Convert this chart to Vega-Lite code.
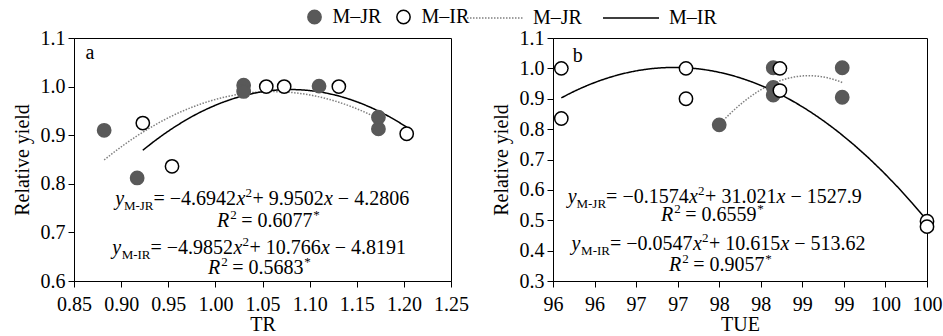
{
  "$schema": "https://vega.github.io/schema/vega-lite/v6.json",
  "padding": {"left": 11, "top": 7, "right": 0, "bottom": 2},
  "background": "white",
  "config": {
    "font": "Liberation Serif",
    "view": {"stroke": "black", "strokeWidth": 1},
    "axis": {
      "labelFont": "Liberation Serif", "labelFontSize": 20, "labelColor": "black",
      "titleFont": "Liberation Serif", "titleFontSize": 20, "titleFontWeight": "normal", "titleColor": "black",
      "domainColor": "black", "tickColor": "black", "tickSize": 6, "grid": false,
      "labelFlush": false, "labelOverlap": false
    },
    "axisX": {"labelPadding": 7, "titlePadding": 0},
    "axisY": {"labelPadding": 3, "titlePadding": 8},
    "legend": {"labelFont": "Liberation Serif", "labelFontSize": 20, "labelColor": "black", "padding": 0, "rowPadding": 0},
    "concat": {"spacing": 21},
    "text": {"font": "Liberation Serif", "fontSize": 20, "color": "black", "baseline": "alphabetic"}
  },
  "datasets": {
    "pa": [
      {"series": "M–JR", "xv": 0.882, "yv": 0.910},
      {"series": "M–JR", "xv": 0.917, "yv": 0.812},
      {"series": "M–JR", "xv": 1.030, "yv": 1.003},
      {"series": "M–JR", "xv": 1.030, "yv": 0.990},
      {"series": "M–JR", "xv": 1.110, "yv": 1.001},
      {"series": "M–JR", "xv": 1.173, "yv": 0.937},
      {"series": "M–JR", "xv": 1.173, "yv": 0.913},
      {"series": "M–IR", "xv": 0.923, "yv": 0.925},
      {"series": "M–IR", "xv": 0.954, "yv": 0.836},
      {"series": "M–IR", "xv": 1.054, "yv": 1.000},
      {"series": "M–IR", "xv": 1.073, "yv": 1.000},
      {"series": "M–IR", "xv": 1.131, "yv": 1.000},
      {"series": "M–IR", "xv": 1.203, "yv": 0.903}
    ],
    "pb": [
      {"series": "M–JR", "xv": 97.5, "yv": 0.814},
      {"series": "M–JR", "xv": 98.15, "yv": 1.002},
      {"series": "M–JR", "xv": 98.15, "yv": 0.937},
      {"series": "M–JR", "xv": 98.15, "yv": 0.912},
      {"series": "M–JR", "xv": 98.98, "yv": 1.002},
      {"series": "M–JR", "xv": 98.98, "yv": 0.905},
      {"series": "M–IR", "xv": 95.6, "yv": 1.0},
      {"series": "M–IR", "xv": 95.6, "yv": 0.835},
      {"series": "M–IR", "xv": 97.1, "yv": 1.0},
      {"series": "M–IR", "xv": 97.1, "yv": 0.90},
      {"series": "M–IR", "xv": 98.23, "yv": 1.0},
      {"series": "M–IR", "xv": 98.23, "yv": 0.927},
      {"series": "M–IR", "xv": 100, "yv": 0.497},
      {"series": "M–IR", "xv": 100, "yv": 0.479}
    ],
    "ea": [
      {"xv": 0.9344, "yv": 0.7564, "sub": "M-JR", "c1": "= −4.6942", "c2": "+ 9.9502", "c3": "− 4.2806"},
      {"xv": 0.9312, "yv": 0.6556, "sub": "M-IR", "c1": "= −4.9852", "c2": "+ 10.766", "c3": "− 4.8191"}
    ],
    "ra": [
      {"xv": 1.0147, "yv": 0.7111, "c1": "= 0.6077"},
      {"xv": 1.0051, "yv": 0.6144, "c1": "= 0.5683"}
    ],
    "la": [{"xv": 0.867, "yv": 1.0558, "lab": "a"}],
    "eb": [
      {"xv": 96.139, "yv": 0.5568, "sub": "M-JR", "c1": "= −0.1574", "c2": "+ 31.021", "c3": "− 1527.9"},
      {"xv": 96.186, "yv": 0.4021, "sub": "M-IR", "c1": "= −0.0547", "c2": "+ 10.615", "c3": "− 513.62"}
    ],
    "rb": [
      {"xv": 96.947, "yv": 0.4975, "c1": "= 0.6559"},
      {"xv": 97.042, "yv": 0.3329, "c1": "= 0.9057"}
    ],
    "lb": [{"xv": 95.798, "yv": 1.021, "lab": "b"}]
  },
  "hconcat": [
    {
      "width": 377, "height": 243,
      "encoding": {
        "x": {"field": "xv", "type": "quantitative", "scale": {"domain": [0.85, 1.25], "nice": false, "zero": false},
              "axis": {"title": "TR", "values": [0.85, 0.9, 0.95, 1.0, 1.05, 1.1, 1.15, 1.2, 1.25], "format": ".2f"}},
        "y": {"field": "yv", "type": "quantitative", "scale": {"domain": [0.6, 1.1], "nice": false, "zero": false},
              "axis": {"title": "Relative yield", "values": [0.6, 0.7, 0.8, 0.9, 1.0, 1.1], "format": ".1f"}}
      },
      "layer": [
        {
          "data": {"name": "pa"},
          "transform": [{"regression": "yv", "on": "xv", "groupby": ["series"], "method": "poly", "order": 2}],
          "mark": {"type": "line", "strokeWidth": 1.5},
          "encoding": {
            "color": {"field": "series", "type": "nominal", "scale": {"domain": ["M–JR", "M–IR"], "range": ["#808080", "black"]},
                      "legend": {"title": null, "orient": "none", "legendX": 410, "legendY": -31, "direction": "horizontal", "symbolType": "M-2.8,0H2.8", "symbolSize": 400, "symbolStrokeWidth": 1.5, "labelOffset": 27, "columnPadding": 18}},
            "strokeDash": {"field": "series", "type": "nominal", "scale": {"domain": ["M–JR", "M–IR"], "range": [[1.5, 1.5], [1, 0]]},
                      "legend": {"title": null, "orient": "none", "legendX": 410, "legendY": -31, "direction": "horizontal", "symbolType": "M-2.8,0H2.8", "symbolSize": 400, "symbolStrokeWidth": 1.5, "labelOffset": 27, "columnPadding": 18}}
          }
        },
        {
          "data": {"name": "pa"},
          "mark": {"type": "point", "shape": "circle", "filled": true, "size": 177, "strokeWidth": 1.5, "opacity": 1},
          "encoding": {
            "fill": {"field": "series", "type": "nominal", "sort": "descending", "scale": {"range": ["#595959", "white"]},
                     "legend": {"title": null, "orient": "none", "legendX": 230.5, "legendY": -31, "direction": "horizontal", "symbolType": "circle", "symbolSize": 177, "symbolStrokeWidth": 1.5, "labelOffset": 8, "columnPadding": 12}},
            "stroke": {"field": "series", "type": "nominal", "sort": "descending", "scale": {"range": ["#595959", "black"]},
                     "legend": {"title": null, "orient": "none", "legendX": 230.5, "legendY": -31, "direction": "horizontal", "symbolType": "circle", "symbolSize": 177, "symbolStrokeWidth": 1.5, "labelOffset": 8, "columnPadding": 12}}
          }
        },
        {"data": {"name": "la"}, "mark": {"type": "text", "align": "center"}, "encoding": {"text": {"field": "lab"}}},
        {"data": {"name": "ea"}, "mark": {"type": "text", "text": "y", "fontStyle": "italic", "align": "right", "dx": -29.5}, "encoding": {}},
        {"data": {"name": "ea"}, "mark": {"type": "text", "fontSize": 13, "align": "right", "dy": 5}, "encoding": {"text": {"field": "sub"}}},
        {"data": {"name": "ea"}, "mark": {"type": "text", "align": "left"}, "encoding": {"text": {"field": "c1"}}},
        {"data": {"name": "ea"}, "mark": {"type": "text", "text": "x", "fontStyle": "italic", "align": "left", "dx": 83}, "encoding": {}},
        {"data": {"name": "ea"}, "mark": {"type": "text", "text": "2", "fontSize": 13, "align": "left", "dx": 92, "dy": -8}, "encoding": {}},
        {"data": {"name": "ea"}, "mark": {"type": "text", "align": "left", "dx": 99}, "encoding": {"text": {"field": "c2"}}},
        {"data": {"name": "ea"}, "mark": {"type": "text", "text": "x", "fontStyle": "italic", "align": "left", "dx": 170.4}, "encoding": {}},
        {"data": {"name": "ea"}, "mark": {"type": "text", "align": "left", "dx": 184.3}, "encoding": {"text": {"field": "c3"}}},
        {"data": {"name": "ra"}, "mark": {"type": "text", "text": "R", "fontStyle": "italic", "align": "right"}, "encoding": {}},
        {"data": {"name": "ra"}, "mark": {"type": "text", "text": "2", "fontSize": 13, "align": "left", "dx": 1, "dy": -8}, "encoding": {}},
        {"data": {"name": "ra"}, "mark": {"type": "text", "align": "left", "dx": 12}, "encoding": {"text": {"field": "c1"}}},
        {"data": {"name": "ra"}, "mark": {"type": "text", "text": "*", "fontSize": 13, "align": "left", "dx": 84, "dy": -8}, "encoding": {}}
      ]
    },
    {
      "width": 374, "height": 243,
      "encoding": {
        "x": {"field": "xv", "type": "quantitative", "scale": {"domain": [95.5, 100], "nice": false, "zero": false},
              "axis": {"title": "TUE", "values": [95.5, 96, 96.5, 97, 97.5, 98, 98.5, 99, 99.5, 100], "format": ".0f"}},
        "y": {"field": "yv", "type": "quantitative", "scale": {"domain": [0.3, 1.1], "nice": false, "zero": false},
              "axis": {"title": "Relative yield", "values": [0.3, 0.4, 0.5, 0.6, 0.7, 0.8, 0.9, 1.0, 1.1], "format": ".1f"}}
      },
      "layer": [
        {
          "data": {"name": "pb"},
          "transform": [{"regression": "yv", "on": "xv", "groupby": ["series"], "method": "poly", "order": 2}],
          "mark": {"type": "line", "strokeWidth": 1.5},
          "encoding": {
            "color": {"field": "series", "type": "nominal", "scale": {"domain": ["M–JR", "M–IR"], "range": ["#808080", "black"]},
                      "legend": {"title": null, "orient": "none", "legendX": 410, "legendY": -31, "direction": "horizontal", "symbolType": "M-2.8,0H2.8", "symbolSize": 400, "symbolStrokeWidth": 1.5, "labelOffset": 27, "columnPadding": 18}},
            "strokeDash": {"field": "series", "type": "nominal", "scale": {"domain": ["M–JR", "M–IR"], "range": [[1.5, 1.5], [1, 0]]},
                      "legend": {"title": null, "orient": "none", "legendX": 410, "legendY": -31, "direction": "horizontal", "symbolType": "M-2.8,0H2.8", "symbolSize": 400, "symbolStrokeWidth": 1.5, "labelOffset": 27, "columnPadding": 18}}
          }
        },
        {
          "data": {"name": "pb"},
          "mark": {"type": "point", "shape": "circle", "filled": true, "size": 177, "strokeWidth": 1.5, "opacity": 1},
          "encoding": {
            "fill": {"field": "series", "type": "nominal", "sort": "descending", "scale": {"range": ["#595959", "white"]},
                     "legend": {"title": null, "orient": "none", "legendX": 230.5, "legendY": -31, "direction": "horizontal", "symbolType": "circle", "symbolSize": 177, "symbolStrokeWidth": 1.5, "labelOffset": 8, "columnPadding": 12}},
            "stroke": {"field": "series", "type": "nominal", "sort": "descending", "scale": {"range": ["#595959", "black"]},
                     "legend": {"title": null, "orient": "none", "legendX": 230.5, "legendY": -31, "direction": "horizontal", "symbolType": "circle", "symbolSize": 177, "symbolStrokeWidth": 1.5, "labelOffset": 8, "columnPadding": 12}}
          }
        },
        {"data": {"name": "lb"}, "mark": {"type": "text", "align": "center"}, "encoding": {"text": {"field": "lab"}}},
        {"data": {"name": "eb"}, "mark": {"type": "text", "text": "y", "fontStyle": "italic", "align": "right", "dx": -29.5}, "encoding": {}},
        {"data": {"name": "eb"}, "mark": {"type": "text", "fontSize": 13, "align": "right", "dy": 5}, "encoding": {"text": {"field": "sub"}}},
        {"data": {"name": "eb"}, "mark": {"type": "text", "align": "left"}, "encoding": {"text": {"field": "c1"}}},
        {"data": {"name": "eb"}, "mark": {"type": "text", "text": "x", "fontStyle": "italic", "align": "left", "dx": 83}, "encoding": {}},
        {"data": {"name": "eb"}, "mark": {"type": "text", "text": "2", "fontSize": 13, "align": "left", "dx": 92, "dy": -8}, "encoding": {}},
        {"data": {"name": "eb"}, "mark": {"type": "text", "align": "left", "dx": 99}, "encoding": {"text": {"field": "c2"}}},
        {"data": {"name": "eb"}, "mark": {"type": "text", "text": "x", "fontStyle": "italic", "align": "left", "dx": 170.4}, "encoding": {}},
        {"data": {"name": "eb"}, "mark": {"type": "text", "align": "left", "dx": 184.3}, "encoding": {"text": {"field": "c3"}}},
        {"data": {"name": "rb"}, "mark": {"type": "text", "text": "R", "fontStyle": "italic", "align": "right"}, "encoding": {}},
        {"data": {"name": "rb"}, "mark": {"type": "text", "text": "2", "fontSize": 13, "align": "left", "dx": 1, "dy": -8}, "encoding": {}},
        {"data": {"name": "rb"}, "mark": {"type": "text", "align": "left", "dx": 12}, "encoding": {"text": {"field": "c1"}}},
        {"data": {"name": "rb"}, "mark": {"type": "text", "text": "*", "fontSize": 13, "align": "left", "dx": 84, "dy": -8}, "encoding": {}}
      ]
    }
  ]
}
